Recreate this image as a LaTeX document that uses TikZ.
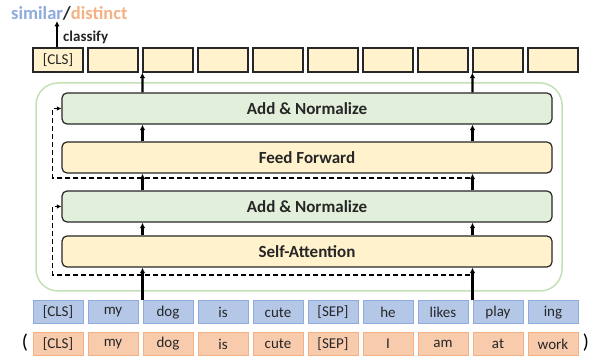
\documentclass[tikz,border=0pt]{standalone}
\usepackage{fontspec}
\setmainfont{Carlito}
\usetikzlibrary{arrows.meta,calc}
\definecolor{ink}{HTML}{262626}
\definecolor{yel}{HTML}{FFF2CC}
\definecolor{grn}{HTML}{E2EFDA}
\definecolor{grnb}{HTML}{C5E0B4}
\definecolor{blu}{HTML}{B4C7E7}
\definecolor{blub}{HTML}{8FAADC}
\definecolor{org}{HTML}{F8CBAD}
\definecolor{orgb}{HTML}{F4B183}
\tikzset{
  outbox/.style={draw=ink,line width=1.2pt,fill=yel,minimum width=50pt,minimum height=24pt,inner sep=0pt,font=\fontsize{15}{16}\selectfont,text=ink},
  btok/.style={draw=blub,line width=1pt,fill=blu,minimum width=50pt,minimum height=23pt,inner sep=0pt,font=\fontsize{15}{16}\selectfont,text=ink},
  otok/.style={draw=orgb,line width=1pt,fill=org,minimum width=50pt,minimum height=23pt,inner sep=0pt,font=\fontsize{15}{16}\selectfont,text=ink},
  layer/.style={draw=ink,line width=1.2pt,rounded corners=5pt,minimum width=490pt,minimum height=31pt,inner sep=0pt,font=\bfseries\fontsize{17}{19}\selectfont,text=ink},
  arr/.style={line width=2.2pt,-{Latex[length=5.5pt,width=5.5pt]}},
  resid/.style={line width=1.3pt,dash pattern=on 5pt off 3pt,-{Latex[length=4.5pt,width=4.5pt]}},
  lbl/.style={font=\bfseries\fontsize{18.5}{20}\selectfont,inner sep=0pt}
}
\begin{document}
\begin{tikzpicture}[x=1pt,y=-1pt]
\useasboundingbox (0,0) rectangle (595,358);
% container
\node[draw=grnb,line width=1.5pt,rounded corners=22pt,minimum width=526pt,minimum height=208pt,inner sep=0pt] (enc) at (299,187) {};
% layers
\node[layer,fill=grn] (an1) at (307,108.5) {Add \& Normalize};
\node[layer,fill=yel] (ff) at (307,157.5) {Feed Forward};
\node[layer,fill=grn] (an2) at (307,206.5) {Add \& Normalize};
\node[layer,fill=yel] (sa) at (307,251.5) {Self-Attention};
% output boxes
\foreach \i/\t in {0/[CLS],1/,2/,3/,4/,5/,6/,7/,8/,9/} {
  \node[outbox] (c\i) at (58+55*\i,60) {\t};
}
% tokens
\foreach \i/\t in {0/[CLS],1/my,2/dog,3/is,4/cute,5/[SEP],6/he,7/likes,8/play,9/ing} {
  \node[btok] (b\i) at (58+55*\i,312.5) {\t};
}
\foreach \i/\t in {0/[CLS],1/my,2/dog,3/is,4/cute,5/[SEP],6/I,7/am,8/at,9/work} {
  \node[otok] (o\i) at (58+55*\i,344) {\t};
}
\node[font=\fontsize{20}{22}\selectfont,inner sep=0pt] (lp) at (25,343) {(};
\node[font=\fontsize{20}{22}\selectfont,inner sep=0pt] (rp) at (586,343) {)};
% top label
\node[lbl,anchor=west] (sim) at (11,13) {\textcolor{blub}{similar}\textcolor{ink}{/}\textcolor{orgb}{distinct}};
\node[font=\bfseries\fontsize{15}{16}\selectfont,inner sep=0pt,anchor=west,text=ink] (cls) at (63,37) {classify};
\draw[arr] (c0.north -| 57,0) -- (57,21);
% main arrows
\foreach \k in {2,8} {
  \draw[arr] (b\k.north west) -- (sa.south -| b\k.north west);
  \draw[arr] (sa.north -| b\k.north west) -- (an2.south -| b\k.north west);
  \draw[arr] (an2.north -| b\k.north west) -- (ff.south -| b\k.north west);
  \draw[arr] (ff.north -| b\k.north west) -- (an1.south -| b\k.north west);
  \draw[arr] (an1.north -| b\k.north west) -- (c\k.south west);
}
% residual connections
\coordinate (r1s) at (470,275);
\coordinate (r1c) at (52.5,275);
\coordinate (r2s) at (470,178);
\coordinate (r2c) at (52.5,178);
\draw[resid] (r1s) -- (r1c) |- (an2.west);
\draw[resid] (r2s) -- (r2c) |- (an1.west);
\end{tikzpicture}
\end{document}
